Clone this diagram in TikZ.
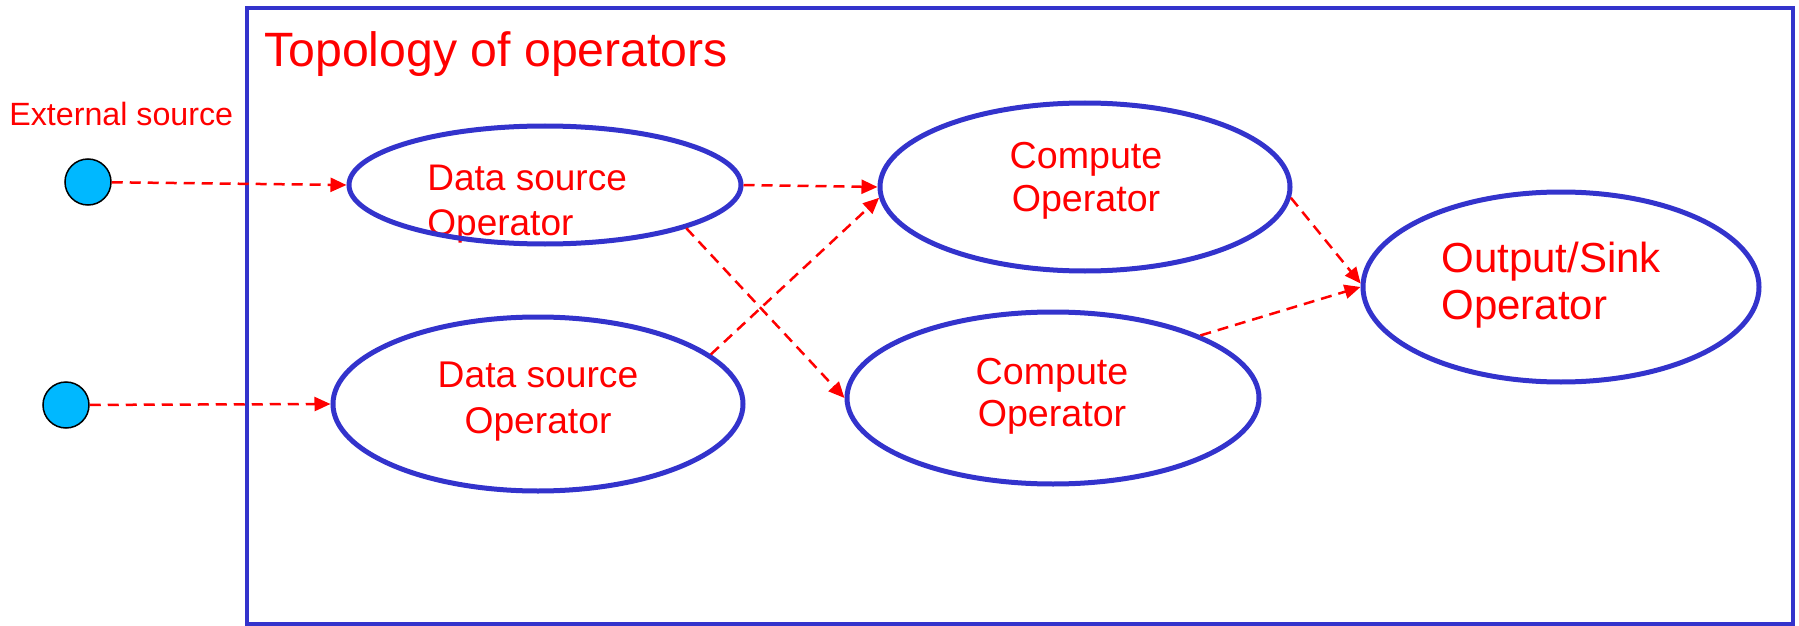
\documentclass[tikz,border=0pt]{standalone}
\usepackage{fontspec}
\setmainfont{Liberation Sans}
\usetikzlibrary{shapes.geometric,arrows.meta}
\definecolor{opblue}{RGB}{51,51,204}
\definecolor{srccyan}{RGB}{0,184,255}
\begin{document}
\begin{tikzpicture}[x=0.5pt,y=-0.5pt,
  opellipse/.style={ellipse,draw=opblue,line width=2.5pt,inner sep=0pt},
  optext/.style={text=red,inner sep=0pt},
  srcdot/.style={circle,draw=black,line width=0.75pt,fill=srccyan,minimum size=23pt,inner sep=0pt},
  flow/.style={draw=red,line width=1.25pt,dash pattern=on 5.5pt off 3.5pt,-{Triangle[length=8pt,width=7pt]}},
  frame/.style={draw=opblue,line width=2.2pt}]
\useasboundingbox (0,0) rectangle (1799,626);
\draw[frame] (247,8) rectangle (1793,624);

% texts
\node[optext,anchor=north west,font=\fontsize{24.1}{28}\selectfont] (title) at (264,31) {Topology of operators};
\node[optext,anchor=north west,font=\fontsize{16.1}{19}\selectfont] (ext) at (9,102) {External source};
\node[optext,anchor=north west,align=left,font=\fontsize{18.5}{22.5}\selectfont] (t1) at (427,165) {Data source\\Operator};
\node[optext,anchor=north,align=center,font=\fontsize{18.6}{23}\selectfont] (t2) at (538,362) {Data source\\Operator};
\node[optext,anchor=north,align=center,font=\fontsize{18.8}{21.5}\selectfont] (t3) at (1086,142) {Compute\\Operator};
\node[optext,anchor=north,align=center,font=\fontsize{18.8}{20.8}\selectfont] (t4) at (1052,358) {Compute\\Operator};
\node[optext,anchor=north west,align=left,font=\fontsize{21}{23.5}\selectfont] (t5) at (1441,242) {Output/Sink\\Operator};

% operators
\node[opellipse,minimum width=196pt,minimum height=59pt] (ds1) at (545,185) {};
\node[opellipse,minimum width=205pt,minimum height=87pt] (ds2) at (538,404) {};
\node[opellipse,minimum width=205pt,minimum height=84pt] (c1) at (1085,187) {};
\node[opellipse,minimum width=206pt,minimum height=86pt] (c2) at (1053,398) {};
\node[opellipse,minimum width=198pt,minimum height=95pt] (out) at (1561,287) {};

% external sources
\node[srcdot] (s1) at (88,182) {};
\node[srcdot] (s2) at (66,405) {};

% flows
\draw[flow] (s1) -- (ds1.west);
\draw[flow] (s2) -- (ds2.west);
\draw[flow] (ds1.east) -- (c1.west);
\draw[flow] (ds1.-17) -- (c2.west);
\draw[flow] (ds2.16) -- (c1.183);
\draw[flow] (c1.-3) -- (out.179);
\draw[flow] (c2.23) -- (out.west);
\end{tikzpicture}
\end{document}
